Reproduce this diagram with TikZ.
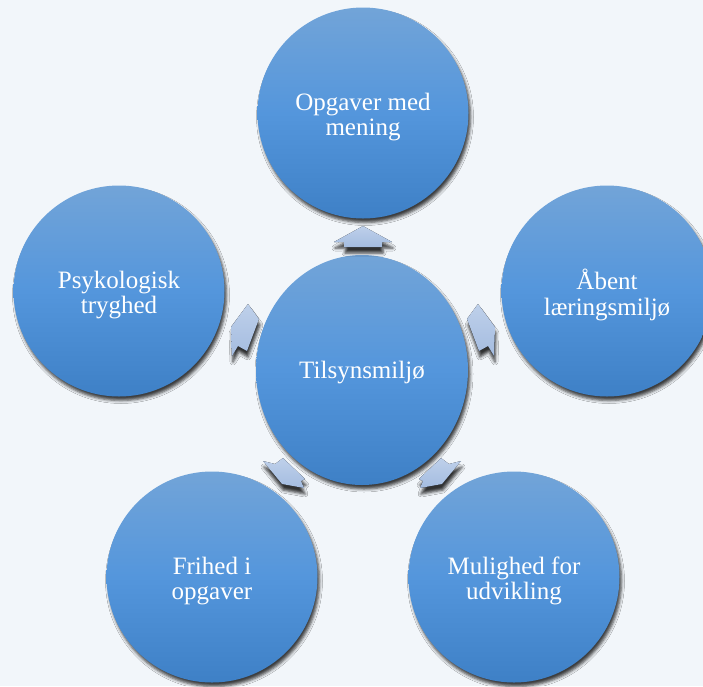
\documentclass[tikz,border=0pt]{standalone}
\usepackage{fontspec}
\setmainfont{Liberation Serif}
\usetikzlibrary{shapes.geometric,shadows.blur}
\definecolor{bg}{RGB}{242,246,250}
\definecolor{ctop}{RGB}{114,164,216}
\definecolor{cmid}{RGB}{84,150,220}
\definecolor{cbot}{RGB}{62,128,198}
\definecolor{atop}{RGB}{190,208,234}
\definecolor{abot}{RGB}{164,188,224}
\begin{document}
\begin{tikzpicture}[x=1pt,y=-1pt,
  bub/.style={circle, minimum size=211pt, inner sep=0pt, top color=ctop, bottom color=cbot, middle color=cmid,
    blur shadow={shadow xshift=2pt, shadow yshift=-4pt, shadow blur radius=3pt, shadow opacity=75}},
  txt/.style={text=white, align=center, font=\fontsize{25}{25.5}\selectfont},
  arr/.style={top color=atop, bottom color=abot,
    blur shadow={shadow xshift=1pt, shadow yshift=-6pt, shadow blur radius=3pt, shadow opacity=80}}]
\useasboundingbox (0,0) rectangle (703,686);
\fill[bg] (0,0) rectangle (703,686);
\clip (0,0) rectangle (703,686);
% outer circles
\node[bub] (top) at (363,113) {};
\node[bub] (left) at (119,291) {};
\node[bub] (right) at (607,291) {};
\node[bub] (bl) at (212,577) {};
\node[bub] (br) at (514,577) {};
% centre
\node[bub, ellipse, minimum width=212pt, minimum height=230pt] (mid) at (362,370) {};
% labels
\node[txt] (ttop) at ([yshift=-4pt]top.center) {Opgaver med\\mening};
\node[txt] (tleft) at ([yshift=-4pt]left.center) {Psykologisk\\tryghed};
\node[txt] (tright) at ([yshift=-4pt]right.center) {Åbent\\læringsmiljø};
\node[txt] (tbl) at ([yshift=-4pt]bl.center) {Frihed i\\opgaver};
\node[txt] (tbr) at ([yshift=-4pt]br.center) {Mulighed for\\udvikling};
\node[txt] (tmid) at ([yshift=-3pt]mid.center) {Tilsynsmiljø};
% arrows
\fill[arr] (363,226) -- (392,242) -- (382,242) -- (382,247) -- (344,247) -- (344,242) -- (334,242) -- cycle;
\fill[arr] (248,304) -- (259,319) -- (247,351) -- (238,346) -- (232,356) -- (231,327) -- cycle;
\fill[arr] (478,304) -- (467,319) -- (479,351) -- (488,346) -- (494,356) -- (495,327) -- cycle;
\fill[arr] (263,461) -- (275,464) -- (283,458) -- (305,479) -- (301,481) -- (304,488) -- (282,484) -- cycle;
\fill[arr] (461,461) -- (449,464) -- (441,458) -- (419,479) -- (423,481) -- (420,488) -- (442,484) -- cycle;
\end{tikzpicture}
\end{document}
